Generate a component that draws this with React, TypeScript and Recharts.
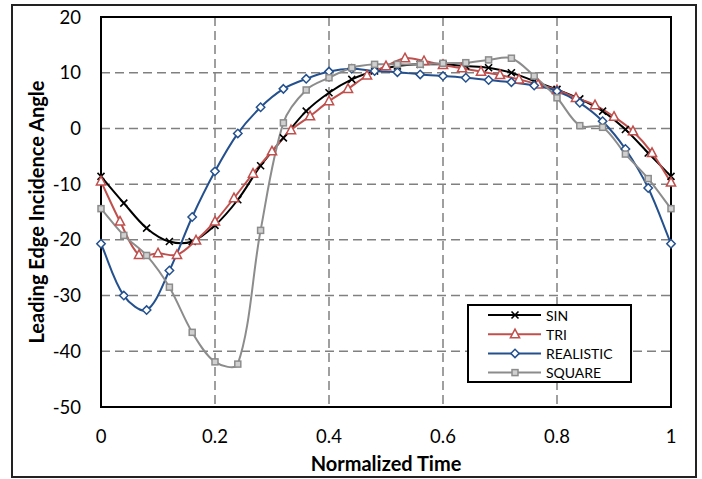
import React from 'react';
import { LineChart, Line, XAxis, YAxis, CartesianGrid, Legend, ReferenceArea, Label } from 'recharts';

const TIME = [0, 0.04, 0.08, 0.12, 0.16, 0.2, 0.24, 0.28, 0.32, 0.36, 0.4, 0.44, 0.48, 0.52, 0.56, 0.6, 0.64, 0.68, 0.72, 0.76, 0.8, 0.84, 0.88, 0.92, 0.96, 1];
const TRI_TIME = [0, 0.0333, 0.0667, 0.1, 0.1333, 0.1667, 0.2, 0.2333, 0.2667, 0.3, 0.3333, 0.3667, 0.4, 0.4333, 0.4667, 0.5, 0.5333, 0.5667, 0.6, 0.6333, 0.6667, 0.7, 0.7333, 0.7667, 0.8, 0.8333, 0.8667, 0.9, 0.9333, 0.9667, 1];

const SIN = [-8.6, -13.4, -17.9, -20.3, -20.3, -17.4, -12.8, -6.7, -1.7, 3.1, 6.4, 8.8, 10.3, 11.2, 11.5, 11.5, 11.2, 10.9, 10.0, 8.5, 7.0, 5.3, 3.1, -0.2, -4.4, -8.6];
const TRI = [-9.5, -16.7, -22.7, -22.4, -22.7, -20.1, -16.7, -12.5, -8.1, -4.1, -0.3, 2.2, 4.9, 7.1, 9.5, 11.2, 12.6, 12.1, 11.4, 10.8, 10.2, 9.6, 8.8, 7.9, 6.9, 5.5, 4.2, 2.1, -0.5, -4.4, -9.7];
const REALISTIC = [-20.7, -30.0, -32.6, -25.5, -15.9, -7.7, -0.9, 3.8, 7.1, 8.9, 10.2, 10.7, 10.3, 10.1, 9.7, 9.4, 9.1, 8.7, 8.3, 7.7, 6.7, 4.6, 1.3, -3.7, -10.7, -20.7];
const SQUARE = [-14.4, -19.2, -22.8, -28.5, -36.6, -41.9, -42.3, -18.3, 1.0, 6.9, 9.1, 10.9, 11.5, 11.5, 11.5, 11.7, 11.8, 12.3, 12.6, 9.4, 5.5, 0.5, 0.2, -4.6, -9.0, -14.4];

const X_TICKS = [0, 0.2, 0.4, 0.6, 0.8, 1];
const Y_TICKS = [-50, -40, -30, -20, -10, 0, 10, 20];

const FONT = 'Lato, "Open Sans", sans-serif';

type Kind = 'x' | 'tri' | 'diamond' | 'square';

const toData = (times: number[], vals: number[]) => times.map((t, i) => ({ t, v: vals[i] }));

const SERIES: { name: string; color: string; kind: Kind; data: { t: number; v: number }[] }[] = [
  { name: 'SIN', color: '#000000', kind: 'x', data: toData(TIME, SIN) },
  { name: 'TRI', color: '#C0504D', kind: 'tri', data: toData(TRI_TIME, TRI) },
  { name: 'REALISTIC', color: '#24518E', kind: 'diamond', data: toData(TIME, REALISTIC) },
  { name: 'SQUARE', color: '#8C8C8C', kind: 'square', data: toData(TIME, SQUARE) },
];

const dist = (a: number[], b: number[]) => Math.hypot(a[0] - b[0], a[1] - b[1]);

// Excel-like smoothed curve: Bezier tangents weighted by segment lengths
const smoothCurve: any = (context: any) => {
  let pts: number[][] = [];
  return {
    areaStart() {},
    areaEnd() {},
    lineStart() {
      pts = [];
    },
    point(x: number, y: number) {
      pts.push([+x, +y]);
    },
    lineEnd() {
      const n = pts.length;
      if (!n) return;
      context.moveTo(pts[0][0], pts[0][1]);
      for (let i = 0; i < n - 1; i++) {
        const p0 = pts[Math.max(i - 1, 0)];
        const p1 = pts[i];
        const p2 = pts[i + 1];
        const p3 = pts[Math.min(i + 2, n - 1)];
        const d01 = dist(p0, p1);
        const d12 = dist(p1, p2);
        const d23 = dist(p2, p3);
        const f1 = d01 + d12 > 0 ? d12 / (d01 + d12) / 3 : 0;
        const f2 = d12 + d23 > 0 ? d12 / (d12 + d23) / 3 : 0;
        context.bezierCurveTo(
          p1[0] + (p2[0] - p0[0]) * f1,
          p1[1] + (p2[1] - p0[1]) * f1,
          p2[0] - (p3[0] - p1[0]) * f2,
          p2[1] - (p3[1] - p1[1]) * f2,
          p2[0],
          p2[1]
        );
      }
    },
  };
};

function Marker({ kind, cx, cy, color }: { kind: Kind; cx: number; cy: number; color: string }) {
  if (cx == null || cy == null) return null;
  switch (kind) {
    case 'x':
      return (
        <path
          d={`M${cx - 3.5},${cy - 3.5}L${cx + 3.5},${cy + 3.5}M${cx - 3.5},${cy + 3.5}L${cx + 3.5},${cy - 3.5}`}
          stroke={color}
          strokeWidth={1.6}
          fill="none"
        />
      );
    case 'tri':
      return (
        <path
          d={`M${cx},${cy - 5}L${cx + 4.6},${cy + 3.6}L${cx - 4.6},${cy + 3.6}Z`}
          stroke={color}
          strokeWidth={1.5}
          fill="#ffffff"
        />
      );
    case 'diamond':
      return (
        <path
          d={`M${cx},${cy - 4.2}L${cx + 4.2},${cy}L${cx},${cy + 4.2}L${cx - 4.2},${cy}Z`}
          stroke={color}
          strokeWidth={1.5}
          fill="#ffffff"
        />
      );
    default:
      return <rect x={cx - 3} y={cy - 3} width={6} height={6} stroke={color} strokeWidth={1.5} fill="#d0d0d0" />;
  }
}

function LegendBox() {
  return (
    <div
      style={{
        width: 165,
        height: 79,
        border: '2px solid #000',
        background: '#fff',
        boxSizing: 'border-box',
      }}
    >
      <svg width={161} height={75} style={{ display: 'block' }}>
        {SERIES.map((s, i) => {
          const y = 9 + i * 19.2;
          return (
            <g key={s.name}>
              <line x1={19} x2={72} y1={y} y2={y} stroke={s.color} strokeWidth={2} />
              <Marker kind={s.kind} cx={46} cy={y} color={s.color} />
              <text x={77} y={y} dominantBaseline="central" fontFamily={FONT} fontSize={14} fill="#000">
                {s.name}
              </text>
            </g>
          );
        })}
      </svg>
    </div>
  );
}

export default function App() {
  return (
    <div style={{ position: 'absolute', left: 0, top: 0, width: 702, height: 479, background: '#fff' }}>
      <div
        style={{
          position: 'absolute',
          left: 11,
          top: 4,
          width: 686,
          height: 474,
          border: '2px solid #222',
          boxSizing: 'border-box',
        }}
      />
      <LineChart width={702} height={479} margin={{ top: 17, right: 31, left: 0, bottom: 0 }}>
        <CartesianGrid stroke="#808080" strokeWidth={1.5} strokeDasharray="9 5" />
        <XAxis
          type="number"
          dataKey="t"
          domain={[0, 1]}
          ticks={X_TICKS}
          height={72}
          tickLine={false}
          axisLine={false}
          tickSize={0}
          tickMargin={23}
          tick={{ fill: '#000', fontSize: 18.5, fontFamily: FONT }}
          allowDuplicatedCategory={false}
        >
          <Label
            content={() => (
              <text x={386} y={463} textAnchor="middle" dominantBaseline="central" fontFamily={FONT} fontWeight="bold" fontSize={20} fill="#000">
                Normalized Time
              </text>
            )}
          />
        </XAxis>
        <YAxis
          type="number"
          domain={[-50, 20]}
          ticks={Y_TICKS}
          width={101}
          tickLine={false}
          axisLine={false}
          tickSize={0}
          tickMargin={20}
          tick={{ fill: '#000', fontSize: 18.5, fontFamily: FONT }}
        >
          <Label
            content={() => (
              <text
                x={36}
                y={212}
                transform="rotate(-90 36 212)"
                textAnchor="middle"
                dominantBaseline="central"
                fontFamily={FONT}
                fontWeight="bold"
                fontSize={20}
                fill="#000"
              >
                Leading Edge Incidence Angle
              </text>
            )}
          />
        </YAxis>
        <ReferenceArea x1={0} x2={1} y1={-50} y2={20} fill="none" stroke="#000" strokeWidth={2} />
        {SERIES.map((s) => (
          <Line
            key={s.name}
            name={s.name}
            data={s.data}
            dataKey="v"
            type={smoothCurve}
            stroke={s.color}
            strokeWidth={2}
            isAnimationActive={false}
            dot={(p: any) => <Marker key={`${s.name}-${p.index}`} kind={s.kind} cx={p.cx} cy={p.cy} color={s.color} />}
            activeDot={false}
          />
        ))}
        <Legend
          layout="vertical"
          align="center"
          verticalAlign="middle"
          wrapperStyle={{ left: 467, top: 304, width: 165, height: 79 }}
          content={() => <LegendBox />}
        />
      </LineChart>
    </div>
  );
}
